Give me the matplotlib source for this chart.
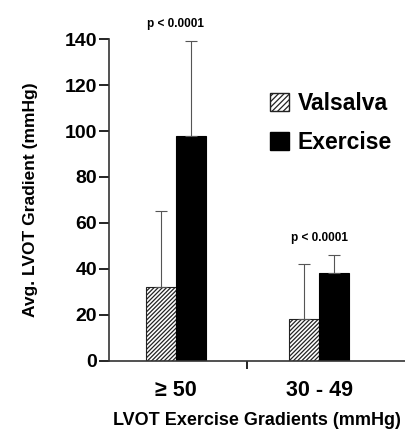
import matplotlib.pyplot as plt
import matplotlib.patches as mpatches
import numpy as np

plt.rcParams["font.family"] = ["Liberation Sans", "DejaVu Sans"]
plt.rcParams["hatch.linewidth"] = 0.9
plt.rcParams["hatch.color"] = "#222222"

grupos = ["\u2265 50", "30 - 49"]
valsalva = [32, 18]
valsalva_err = [33, 24]
exercicio = [98, 38]
exercicio_err = [41, 8]
p_valores = ["p < 0.0001", "p < 0.0001"]

fig = plt.figure(figsize=(4.05, 4.3), dpi=100)
ax = fig.add_axes([0.269, 0.161, 0.731, 0.748])

x = np.arange(len(grupos))
w = 0.21
hachura = "/" * 8

ax.bar(x - w / 2, valsalva, w, color="white", edgecolor="#222222", hatch=hachura, linewidth=0.8)
ax.bar(x + w / 2, exercicio, w, color="black", edgecolor="black", linewidth=0.8)
ax.errorbar(x - w / 2, valsalva, yerr=[np.zeros(2), valsalva_err], fmt="none",
            ecolor="#555555", elinewidth=0.8, capsize=4, capthick=0.8)
ax.errorbar(x + w / 2, exercicio, yerr=[np.zeros(2), exercicio_err], fmt="none",
            ecolor="#555555", elinewidth=0.8, capsize=4, capthick=0.8)

# p-valores acima de cada grupo
for i, p in enumerate(p_valores):
    topo = max(valsalva[i] + valsalva_err[i], exercicio[i] + exercicio_err[i])
    ax.text(x[i], topo + 5, p, ha="center", va="bottom", fontsize=8.5, fontweight="bold")

ax.set_ylim(0, 140)
ax.set_xlim(-0.4685, 1.601)
ax.set_yticks(range(0, 141, 20))
ax.set_xticks(x)
ax.set_xticklabels(grupos)
ax.set_xticks([0.5], minor=True)
ax.tick_params(axis="x", which="major", length=0, pad=14, labelsize=15.5)
ax.tick_params(axis="x", which="minor", length=6, width=1.2, direction="out")
ax.tick_params(axis="y", length=7, width=1.2, labelsize=14, pad=1.5)
for lbl in ax.get_xticklabels() + ax.get_yticklabels():
    lbl.set_fontweight("bold")

for s in ["top", "right"]:
    ax.spines[s].set_visible(False)
for s in ["left", "bottom"]:
    ax.spines[s].set_linewidth(1.2)
    ax.spines[s].set_color("#333333")

ax.set_ylabel("Avg. LVOT Gradient (mmHg)", fontsize=12.5, fontweight="bold")
ax.yaxis.set_label_coords(-0.24, 0.5)
ax.set_xlabel("LVOT Exercise Gradients (mmHg)", fontsize=13, fontweight="bold")
ax.xaxis.set_label_coords(0.5, -0.16)

handles = [
    mpatches.Patch(facecolor="white", edgecolor="#222222", hatch="//////", label="Valsalva"),
    mpatches.Patch(facecolor="black", edgecolor="black", label="Exercise"),
]
ax.legend(handles=handles, loc="upper left", bbox_to_anchor=(0.476, 0.9), frameon=False,
          prop={"weight": "bold", "size": 16.5}, handlelength=0.8, handleheight=0.8,
          handletextpad=0.4, labelspacing=0.7)

plt.savefig("out.png", dpi=100)
